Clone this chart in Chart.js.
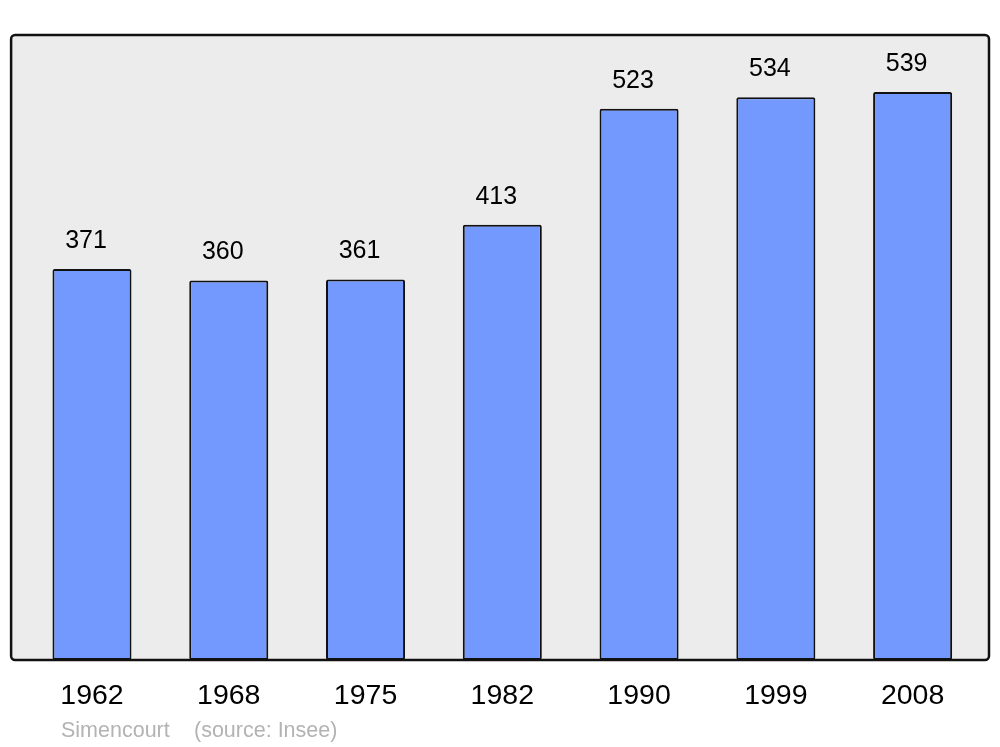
<!DOCTYPE html>
<html>
<head>
<meta charset="utf-8">
<script src="https://cdn.jsdelivr.net/npm/chart.js@4.4.0/dist/chart.umd.min.js"></script>
<style>
  body { margin: 0; background: #fff; }
  canvas { display: block; }
</style>
</head>
<body>
<canvas id="myChart" width="1000" height="747"></canvas>
<script>
// population by census year
var years = ['1962', '1968', '1975', '1982', '1990', '1999', '2008'];
var population = [371, 360, 361, 413, 523, 534, 539];
var townName = 'Simencourt';
var sourceNote = '(source: Insee)';

var fontName = '"Liberation Sans", Arial, sans-serif';

// grey framed background, drawn behind the bars; the frame line goes on top
var framePlugin = {
  id: 'frame',
  frameRect: function(chart) {
    var a = chart.chartArea;
    return { x: a.left - 12.5, y: a.top + 1, w: (a.right + 8) - (a.left - 12.5), h: a.bottom - a.top - 1 };
  },
  beforeDatasetsDraw: function(chart) {
    var r = this.frameRect(chart);
    var ctx = chart.ctx;
    ctx.save();
    ctx.beginPath();
    ctx.roundRect(r.x, r.y, r.w, r.h, 4);
    ctx.fillStyle = '#ececec';
    ctx.fill();
    ctx.restore();
  },
  afterDatasetsDraw: function(chart) {
    var r = this.frameRect(chart);
    var ctx = chart.ctx;
    ctx.save();
    ctx.beginPath();
    ctx.roundRect(r.x, r.y, r.w, r.h, 4);
    ctx.lineWidth = 2.5;
    ctx.strokeStyle = '#111';
    ctx.stroke();

    // value labels above each bar (sit a little left of centre, as in the original)
    var meta = chart.getDatasetMeta(0);
    ctx.fillStyle = '#000';
    ctx.font = '25px ' + fontName;
    ctx.textAlign = 'center';
    ctx.textBaseline = 'middle';
    meta.data.forEach(function(bar, i) {
      ctx.fillText(String(population[i]), bar.x - 6, bar.y - 28);
    });
    ctx.restore();
  },
  afterDraw: function(chart) {
    var ctx = chart.ctx;
    ctx.save();
    ctx.fillStyle = '#b3b3b3';
    ctx.font = '21.5px ' + fontName;
    ctx.textAlign = 'left';
    ctx.textBaseline = 'middle';
    ctx.fillText(townName, 61, 731);
    ctx.fillText(sourceNote, 194, 731);
    ctx.restore();
  }
};

new Chart(document.getElementById('myChart').getContext('2d'), {
  type: 'bar',
  data: {
    labels: years,
    datasets: [{
      data: population,
      backgroundColor: '#7399ff',
      borderColor: '#111',
      borderWidth: 2,
      borderRadius: 2,
      borderSkipped: false,
      categoryPercentage: 1,
      barPercentage: 0.578
    }]
  },
  options: {
    responsive: false,
    animation: false,
    layout: { padding: { left: 23.6, right: 19, top: 34, bottom: 0 } },
    plugins: {
      legend: { display: false },
      tooltip: { enabled: false }
    },
    scales: {
      x: {
        grid: { display: false, drawTicks: false },
        border: { display: false },
        ticks: {
          color: '#000',
          font: { family: fontName, size: 28.5 },
          padding: 19
        },
        afterFit: function(scale) { scale.height = 87; }
      },
      y: {
        display: false,
        min: 0,
        max: 594
      }
    }
  },
  plugins: [framePlugin]
});
</script>
</body>
</html>
